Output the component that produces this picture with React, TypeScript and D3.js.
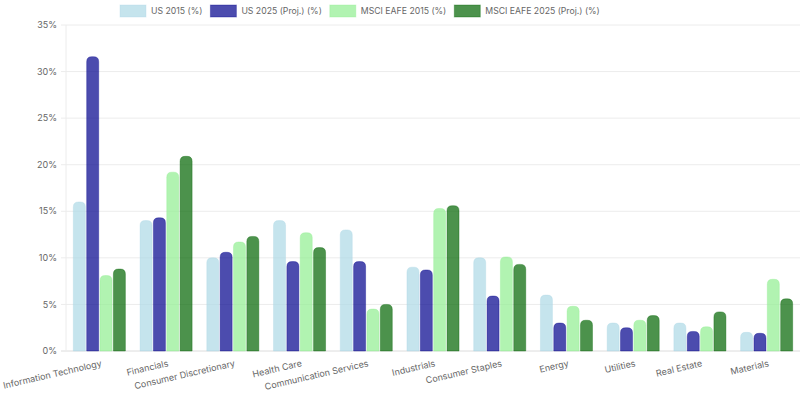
import React, { useRef, useEffect } from 'react';
import * as d3 from 'd3';

const categories = [
  'Information Technology', 'Financials', 'Consumer Discretionary', 'Health Care',
  'Communication Services', 'Industrials', 'Consumer Staples', 'Energy',
  'Utilities', 'Real Estate', 'Materials'
];
const us2015 = [16.0, 14.0, 10.0, 14.0, 13.0, 9.0, 10.0, 6.0, 3.0, 3.0, 2.0];
const us2025 = [31.6, 14.3, 10.6, 9.6, 9.6, 8.7, 5.9, 3.0, 2.5, 2.1, 1.9];
const eafe2015 = [8.1, 19.2, 11.7, 12.7, 4.5, 15.3, 10.1, 4.8, 3.3, 2.6, 7.7];
const eafe2025 = [8.8, 20.9, 12.3, 11.1, 5.0, 15.6, 9.3, 3.3, 3.8, 4.2, 5.6];
const seriesNames = ['US 2015 (%)', 'US 2025 (Proj.) (%)', 'MSCI EAFE 2015 (%)', 'MSCI EAFE 2025 (Proj.) (%)'];
const yTicks = [0, 5, 10, 15, 20, 25, 30, 35];

const W = 800, H = 395;
const colors = ['#add8e6', '#00008b', '#90ee90', '#006400'];
const FONT = 'Inter, "Noto Sans", sans-serif';

// rounded-top bar path
const barPath = (x, y, w, h, r) => {
  r = Math.min(r, w / 2, h);
  return `M${x},${y + h}V${y + r}Q${x},${y} ${x + r},${y}H${x + w - r}Q${x + w},${y} ${x + w},${y + r}V${y + h}Z`;
};

const App = () => {
  const svgRef = useRef(null);
  useEffect(() => {
    const svg = d3.select(svgRef.current);
    svg.selectAll('*').remove();
    const margin = { top: 25, right: 0, bottom: 44, left: 66 };
    const series = [us2015, us2025, eafe2015, eafe2025];

    const x = d3.scaleBand().domain(categories).range([margin.left, W - margin.right]).paddingInner(0.2).paddingOuter(0.1);
    const y = d3.scaleLinear().domain([0, 35]).range([H - margin.bottom, margin.top]);
    const xs = d3.scaleBand().domain(d3.range(4)).range([0, x.bandwidth()]).paddingInner(0.1).paddingOuter(0.05);

    // grid
    svg.append('g').selectAll('line').data(yTicks).join('line')
      .attr('x1', margin.left - 5).attr('x2', W - margin.right)
      .attr('y1', d => y(d)).attr('y2', d => y(d))
      .attr('stroke', d => d === 0 ? '#dcdcdc' : '#ececec').attr('stroke-width', 1);
    svg.append('line')
      .attr('x1', margin.left).attr('x2', margin.left)
      .attr('y1', margin.top).attr('y2', H - margin.bottom)
      .attr('stroke', '#ececec');

    svg.append('g').selectAll('text').data(yTicks).join('text')
      .attr('x', margin.left - 9).attr('y', d => y(d)).attr('dy', '0.35em')
      .attr('text-anchor', 'end').attr('font-family', FONT).attr('font-size', 9)
      .attr('fill', '#666').text(d => d + '%');

    // bars
    series.forEach((vals, si) => {
      svg.append('g').selectAll('path').data(vals).join('path')
        .attr('d', (v, i) => {
          const bx = x(categories[i]) + xs(si);
          return barPath(bx, y(v), xs.bandwidth(), y(0) - y(v), 5);
        })
        .attr('fill', colors[si]).attr('fill-opacity', 0.7)
        .attr('stroke', colors[si]).attr('stroke-opacity', 0.35).attr('stroke-width', 1);
    });

    // x labels
    svg.append('g').selectAll('text').data(categories).join('text')
      .attr('transform', d => `translate(${x(d) + x.bandwidth() / 2 + 2},${H - margin.bottom + 12}) rotate(-13)`)
      .attr('text-anchor', 'end').attr('dy', '0.35em')
      .attr('font-family', FONT).attr('font-size', 9).attr('fill', '#666')
      .text(d => d);

    // legend
    const lg = svg.append('g');
    const items = lg.selectAll('g').data(seriesNames).join('g');
    items.append('rect').attr('width', 26).attr('height', 12).attr('y', 5)
      .attr('fill', (d, i) => colors[i]).attr('fill-opacity', 0.7)
      .attr('stroke', (d, i) => colors[i]).attr('stroke-opacity', 0.35);
    items.append('text').attr('x', 31).attr('y', 11).attr('dy', '0.35em')
      .attr('font-family', FONT).attr('font-size', 8.7).attr('fill', '#666').text(d => d);
    const widths = [];
    items.each(function () {
      const t = d3.select(this).select('text').node();
      widths.push(31 + t.getComputedTextLength());
    });
    let off = 120;
    items.attr('transform', (d, i) => {
      const o = off;
      off += widths[i] + 8;
      return `translate(${o},0)`;
    });
  }, []);

  return (
    <svg ref={svgRef} width={W} height={H}
      style={{ position: 'absolute', left: 0, top: 0, background: '#fff' }} />
  );
};

export default App;
